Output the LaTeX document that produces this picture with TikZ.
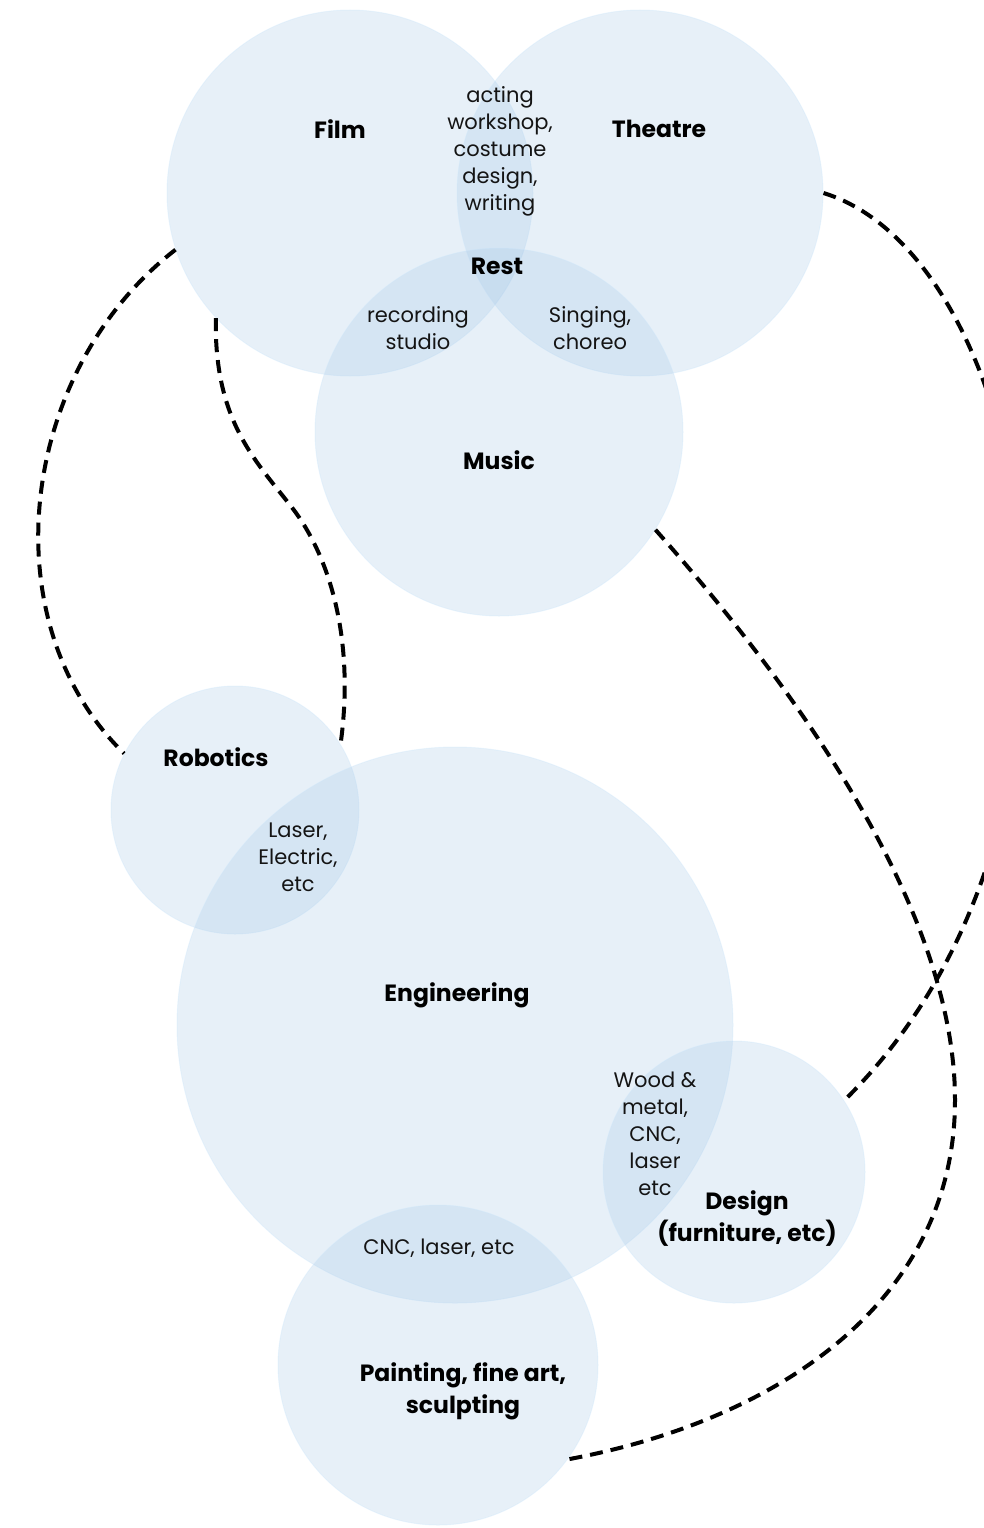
\documentclass[tikz,border=0pt]{standalone}
\usepackage{fontspec}
\setmainfont{Poppins}
\begin{document}
\begin{tikzpicture}[x=1pt,y=-1pt,
  area/.style={circle, inner sep=0pt, minimum size=#1,
    fill={rgb,255:red,160;green,196;blue,228}, fill opacity=0.25,
    draw={rgb,255:red,205;green,230;blue,250}, draw opacity=0.35, line width=1pt},
  lbl/.style={align=center, font=\fontsize{21}{27}\selectfont, text={rgb,255:red,20;green,20;blue,20}},
  head/.style={align=center, font=\fontsize{23.5}{32}\selectfont\bfseries, text=black},
  link/.style={line width=4pt, dash pattern=on 13pt off 8pt, black}]
\useasboundingbox (0,0) rectangle (984,1528);

% discipline circles
\node[area=366pt] (film)    at (350,193)  {};
\node[area=366pt] (theatre) at (640,193)  {};
\node[area=368pt] (music)   at (499,432)  {};
\node[area=248pt] (robot)   at (235,810)  {};
\node[area=556pt] (eng)     at (455,1025) {};
\node[area=262pt] (design)  at (734,1172) {};
\node[area=320pt] (paint)   at (438,1365) {};

% headings
\node[head] (tfilm)    at (340,129)  {Film};
\node[head] (ttheatre) at (659,129)  {Theatre};
\node[head] (trest)    at (497,266)  {Rest};
\node[head] (tmusic)   at (499,460)  {Music};
\node[head] (trobot)   at (216,757)  {Robotics};
\node[head] (teng)     at (457,995)  {Engineering};
\node[head] (tdesign)  at (747,1219) {Design\\(furniture, etc)};
\node[head] (tpaint)   at (463,1391) {Painting, fine art,\\sculpting};

% shared activities
\node[lbl] (ft)  at (500,151)  {acting\\workshop,\\costume\\design,\\writing};
\node[lbl] (fm)  at (418,328)  {recording\\studio};
\node[lbl] (tm)  at (590,328)  {Singing,\\choreo};
\node[lbl] (re)  at (298,857)  {Laser,\\Electric,\\etc};
\node[lbl] (ed)  at (655,1134) {Wood \&\\metal,\\CNC,\\laser\\etc};
\node[lbl] (ep)  at (439,1248) {CNC, laser, etc};

% dashed links between disciplines
\draw[link] (film.-162) .. controls (20,370) and (-12,620) .. (robot.153);
\draw[link] (film.223) .. controls (214,420) and (255,460) .. (290,505)
                       .. controls (330,555) and (355,640) .. (robot.32);
\draw[link] (theatre.0) .. controls (1040,260) and (1130,820) .. (design.33);
\draw[link] (music.-32) .. controls (780,670) and (955,900) .. (955,1100)
                        .. controls (955,1300) and (780,1420) .. (paint.-36);
\end{tikzpicture}
\end{document}
